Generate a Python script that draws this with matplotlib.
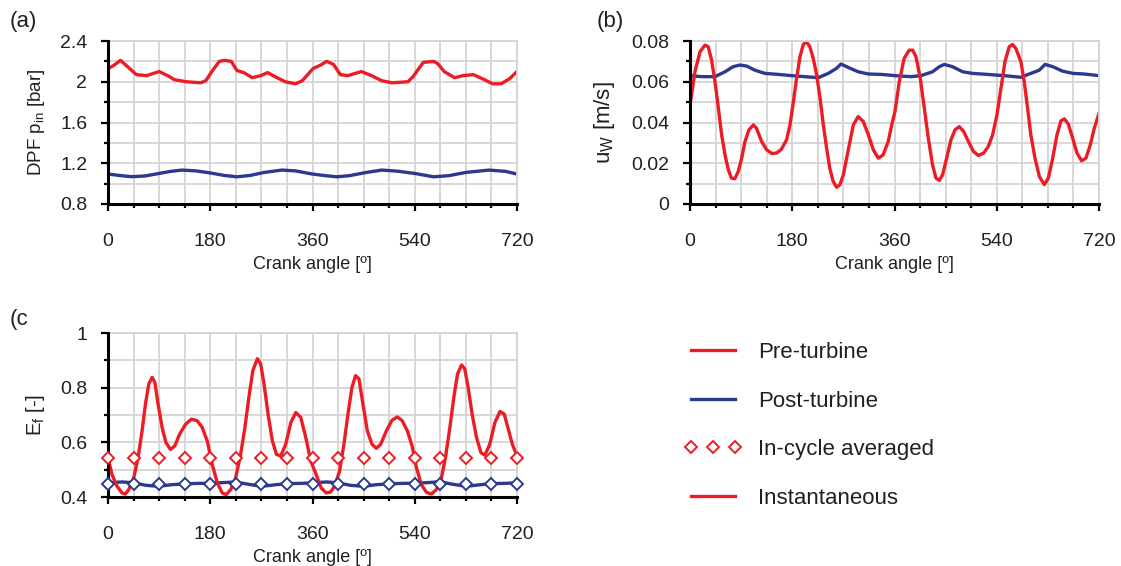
import numpy as np
import matplotlib
matplotlib.use('Agg')
import matplotlib.pyplot as plt
from matplotlib.lines import Line2D

plt.rcParams['font.family'] = ['Liberation Sans', 'DejaVu Sans']
plt.rcParams['mathtext.default'] = 'regular'
plt.rcParams['lines.solid_joinstyle'] = 'round'

RED = '#ED1C24'
BLUE = '#2B3990'
GRID = '#D4D4D4'
TXT = '#231F20'

# (a) DPF inlet pressure [bar]
pre_p_angle = [0, 10, 22, 38, 50, 68, 90, 105, 117, 138, 163, 172, 184, 196, 205, 217,
               227, 239, 254, 269, 281, 294, 312, 330, 342, 361, 373, 385, 397, 409,
               422, 446, 464, 482, 500, 528, 537, 555, 573, 580, 592, 610, 625, 643,
               659, 677, 692, 707, 720]
pre_p = [2.13, 2.16, 2.21, 2.13, 2.07, 2.06, 2.10, 2.06, 2.02, 2.00, 1.99, 2.01, 2.11,
         2.20, 2.21, 2.20, 2.11, 2.09, 2.04, 2.06, 2.09, 2.05, 2.00, 1.98, 2.01, 2.13,
         2.16, 2.20, 2.17, 2.07, 2.06, 2.10, 2.06, 2.01, 1.99, 2.00, 2.05, 2.19, 2.20,
         2.18, 2.10, 2.04, 2.06, 2.07, 2.03, 1.98, 1.98, 2.03, 2.10]
post_p_angle = [0, 20, 42, 65, 90, 110, 130, 155, 180, 205, 227, 250, 275, 306, 330,
                360, 380, 403, 425, 455, 482, 510, 540, 555, 573, 600, 630, 671, 700, 720]
post_p = [1.094, 1.080, 1.068, 1.075, 1.100, 1.120, 1.133, 1.125, 1.105, 1.080, 1.067,
          1.080, 1.110, 1.133, 1.125, 1.094, 1.080, 1.067, 1.078, 1.110, 1.133, 1.122,
          1.100, 1.085, 1.067, 1.078, 1.110, 1.133, 1.120, 1.094]

# (b) wall-flow velocity [m/s]
pre_u_angle = [0, 8.8, 17.6, 26.4, 32, 38, 44, 50, 55.7, 61.6, 67.5, 73, 79, 85, 91,
               96.8, 103.8, 111.5, 117, 126, 135, 143.7, 152.5, 161, 170, 176, 182,
               187.7, 193.6, 199.5, 205, 211, 217, 223, 229, 234.7, 240.5, 246, 252,
               258, 264, 270, 275.7, 281.6, 287.5, 296, 305, 314, 322.7, 331.5, 340,
               349, 355, 360.8, 368.4, 377, 386, 392, 397.8, 405.4, 412.5, 419.5, 427,
               433, 438.9, 444.7, 451.8, 459.4, 466.5, 474, 481.7, 490, 499, 507.5, 517,
               525, 532.7, 540.3, 547.4, 554.4, 562, 567.8, 573.7, 582.5, 588.4, 594.3,
               600, 607.3, 615, 623.7, 630.8, 638.5, 646, 653, 659, 666, 673.6, 681.2,
               689.4, 697, 704.6, 711.7, 720]
pre_u = [0.0486, 0.065, 0.0747, 0.078, 0.0772, 0.0706, 0.060, 0.047, 0.0339, 0.0241,
         0.0168, 0.0127, 0.0124, 0.016, 0.0225, 0.0307, 0.0364, 0.0388, 0.0372, 0.0307,
         0.0266, 0.0248, 0.025, 0.0269, 0.0315, 0.0388, 0.0502, 0.0617, 0.0723, 0.0783,
         0.0796, 0.0772, 0.0714, 0.0633, 0.0519, 0.0388, 0.0274, 0.0176, 0.0111, 0.0082,
         0.0095, 0.0144, 0.0225, 0.0307, 0.0388, 0.0429, 0.0405, 0.0339, 0.0266, 0.0225,
         0.0241, 0.0307, 0.0388, 0.0453, 0.060, 0.0715, 0.0755, 0.0755, 0.0723, 0.0617,
         0.047, 0.0323, 0.0192, 0.0127, 0.0116, 0.0144, 0.0225, 0.0315, 0.0364, 0.038,
         0.0356, 0.0307, 0.0258, 0.0238, 0.025, 0.0282, 0.0339, 0.0437, 0.0568, 0.0698,
         0.0772, 0.0783, 0.0763, 0.0698, 0.060, 0.047, 0.0339, 0.0225, 0.0135, 0.0095,
         0.0127, 0.0225, 0.0339, 0.0408, 0.0418, 0.0392, 0.0323, 0.025, 0.0212, 0.0225,
         0.029, 0.0372, 0.0445]
post_u_angle = [0, 20.5, 44, 61.6, 76, 88, 99.7, 114, 132, 155.5, 179, 202, 225.9, 243.5,
                258, 265.8, 278.7, 296, 314, 337, 361, 389, 406.6, 427, 439, 447.7, 462,
                480, 497.5, 524, 553, 582.5, 600, 615, 625, 638.5, 656, 674, 694, 720]
post_u = [0.0630, 0.0625, 0.0625, 0.0649, 0.0674, 0.0682, 0.0677, 0.0657, 0.0641, 0.0636,
          0.0630, 0.0625, 0.0620, 0.0641, 0.0666, 0.0687, 0.0670, 0.0649, 0.0638, 0.0636,
          0.0630, 0.0625, 0.0630, 0.0649, 0.0674, 0.0685, 0.0674, 0.0649, 0.0641, 0.0636,
          0.0630, 0.0622, 0.0641, 0.0657, 0.0685, 0.0674, 0.0652, 0.0641, 0.0638, 0.0630]

# (c) filtration efficiency [-]
pre_e_angle = [0, 7, 15.9, 24.7, 30.6, 36.5, 45.3, 53, 60, 65.9, 71.8, 77.6, 82.4, 88.2,
               95.3, 102, 110, 117.6, 125.9, 136.5, 147, 157, 166, 174.7, 183.5, 192.4,
               201, 208, 216, 224.7, 233.5, 241, 248, 255, 263, 268.8, 274.7, 281.8,
               289.4, 296.5, 304, 312.9, 321.8, 330.6, 339.4, 348.2, 357, 366.5, 375.3,
               384, 391.8, 398.8, 407.6, 415.3, 422.4, 429.4, 435.9, 441.8, 448.8,
               456.5, 464.7, 472.4, 480, 490, 500, 509.4, 518, 527, 535.3, 543, 551.8,
               560.6, 569.4, 578, 587, 594, 601.8, 608.8, 615.3, 622.4, 628, 634, 641,
               648.8, 656.5, 663.5, 672, 681, 690, 697.6, 704.7, 711.8, 720]
pre_e = [0.545, 0.482, 0.439, 0.415, 0.411, 0.427, 0.470, 0.544, 0.642, 0.740, 0.813,
         0.838, 0.820, 0.740, 0.654, 0.599, 0.574, 0.587, 0.629, 0.666, 0.685, 0.679,
         0.654, 0.605, 0.519, 0.452, 0.415, 0.409, 0.427, 0.470, 0.556, 0.654, 0.765,
         0.863, 0.906, 0.887, 0.813, 0.703, 0.605, 0.556, 0.550, 0.593, 0.672, 0.709,
         0.691, 0.617, 0.531, 0.482, 0.433, 0.415, 0.418, 0.439, 0.494, 0.593, 0.703,
         0.801, 0.844, 0.832, 0.740, 0.642, 0.593, 0.578, 0.593, 0.642, 0.681, 0.693,
         0.679, 0.642, 0.587, 0.507, 0.445, 0.417, 0.411, 0.427, 0.470, 0.544, 0.654,
         0.765, 0.850, 0.883, 0.869, 0.801, 0.703, 0.617, 0.562, 0.553, 0.593, 0.672,
         0.713, 0.703, 0.648, 0.593, 0.550]
post_e_angle = [0, 25, 45, 66, 89, 112, 135, 160, 180, 205, 225, 243, 270, 296, 315, 342,
                360, 385, 405, 426, 450, 472, 495, 520, 540, 565, 585, 603, 630, 656, 675,
                700, 720]
post_e = [0.452, 0.455, 0.452, 0.443, 0.439, 0.445, 0.448, 0.450, 0.450, 0.453, 0.455,
          0.448, 0.439, 0.445, 0.449, 0.450, 0.452, 0.455, 0.452, 0.443, 0.439, 0.445,
          0.448, 0.450, 0.450, 0.453, 0.456, 0.448, 0.439, 0.445, 0.449, 0.450, 0.452]
avg_angle = [0, 45, 90, 135, 180, 225, 270, 315, 360, 405, 450, 495, 540, 585, 630, 675, 720]
pre_e_avg = 0.544
post_e_avg = 0.449

x_major = [0, 180, 360, 540, 720]
x_minor = [t for t in range(45, 720, 45) if t % 180 != 0]


def style_axes(ax, y_major, y_minor):
    """Grid, spines and outward ticks like the original figure."""
    ax.set_xlim(0, 720)
    ax.set_ylim(y_major[0], y_major[-1])
    ax.set_xticks(x_major)
    ax.set_xticks(x_minor, minor=True)
    ax.set_yticks(y_major)
    ax.set_yticklabels(['%g' % v for v in y_major])
    ax.set_yticks(y_minor, minor=True)
    ax.grid(True, which='both', color=GRID, lw=1.3)
    ax.set_axisbelow(True)
    for s in ['left', 'bottom']:
        ax.spines[s].set_color('black')
        ax.spines[s].set_linewidth(2.2)
        ax.spines[s].set_zorder(5)
    for s in ['top', 'right']:
        ax.spines[s].set_color(GRID)
        ax.spines[s].set_linewidth(1.3)
    ax.tick_params(which='major', direction='out', length=5, width=1.6,
                   color='black', labelsize=14, labelcolor=TXT)
    ax.tick_params(which='minor', direction='out', length=3, width=1.6, color='black')
    ax.tick_params(axis='x', which='major', pad=16)
    ax.tick_params(axis='y', which='major', pad=10)
    ax.set_xlabel('Crank angle [º]', fontsize=13, color=TXT, labelpad=4)


fig = plt.figure(figsize=(11.21, 5.66), dpi=100)
W, H = 1121.0, 566.0


def add_panel(left, top, right, bottom):
    return fig.add_axes([left / W, 1 - bottom / H, (right - left) / W, (bottom - top) / H])


# Panel (a)
ax_a = add_panel(108, 41, 517, 204)
ax_a.plot(post_p_angle, post_p, color=BLUE, lw=2.4)
ax_a.plot(pre_p_angle, pre_p, color=RED, lw=2.4)
style_axes(ax_a, np.round(np.arange(0.8, 2.41, 0.4), 2),
           np.round(np.arange(1.0, 2.4, 0.4), 2))
ax_a.set_ylabel('DPF p$_{in}$ [bar]', fontsize=13.5, color=TXT, labelpad=9)

# Panel (b)
ax_b = add_panel(690, 41, 1099, 204)
ax_b.plot(post_u_angle, post_u, color=BLUE, lw=2.4)
ax_b.plot(pre_u_angle, pre_u, color=RED, lw=2.4)
style_axes(ax_b, np.round(np.arange(0, 0.081, 0.02), 2),
           np.round(np.arange(0.01, 0.08, 0.02), 2))
ax_b.set_ylabel('u$_{W}$ [m/s]', fontsize=16, color=TXT, labelpad=10)

# Panel (c)
ax_c = add_panel(108, 333, 517, 497)
ax_c.plot(post_e_angle, post_e, color=BLUE, lw=2.4)
ax_c.plot(pre_e_angle, pre_e, color=RED, lw=2.4)
ax_c.plot(avg_angle, [pre_e_avg] * len(avg_angle), ls='none', marker='D', ms=6.5,
          mfc='white', mec=RED, mew=1.4, clip_on=False, zorder=6)
ax_c.plot(avg_angle, [post_e_avg] * len(avg_angle), ls='none', marker='D', ms=6.5,
          mfc='white', mec=BLUE, mew=1.4, clip_on=False, zorder=6)
style_axes(ax_c, np.round(np.arange(0.4, 1.01, 0.2), 2),
           np.round(np.arange(0.5, 1.0, 0.2), 2))
ax_c.set_ylabel('E$_{f}$ [-]', fontsize=14.5, color=TXT, labelpad=9)

# Panel letters
fig.text(10 / W, 1 - 22 / H, '(a)', fontsize=16, color=TXT, va='center')
fig.text(597 / W, 1 - 22 / H, '(b)', fontsize=16, color=TXT, va='center')
fig.text(10 / W, 1 - 320 / H, '(c', fontsize=16, color=TXT, va='center')

# Legend
handles = [Line2D([], [], color=RED, lw=2.4),
           Line2D([], [], color=BLUE, lw=2.4),
           Line2D([], [], ls='none', marker='D', ms=6, mfc='white', mec=RED, mew=1.4),
           Line2D([], [], color=RED, lw=2.4)]
labels = ['Pre-turbine', 'Post-turbine', 'In-cycle averaged', 'Instantaneous']
fig.legend(handles, labels, loc='upper left', bbox_to_anchor=(684 / W, 1 - 342 / H),
           frameon=False, fontsize=16, numpoints=3, handlelength=2.6,
           handletextpad=0.75, labelspacing=1.24, borderpad=0, borderaxespad=0,
           labelcolor=TXT)

fig.savefig('out.png', dpi=100)
